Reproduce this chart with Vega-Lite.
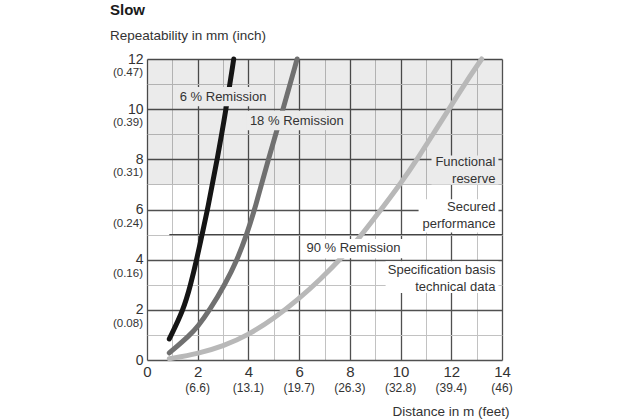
{
  "$schema": "https://vega.github.io/schema/vega-lite/v6.json",
  "width": 355,
  "height": 301,
  "autosize": {"type": "none"},
  "padding": {"left": 147, "top": 59, "right": 118, "bottom": 60},
  "config": {"view": {"stroke": null}, "font": "Liberation Sans"},
  "title": {
    "text": "Slow",
    "subtitle": "Repeatability in mm (inch)",
    "anchor": "start",
    "frame": "group",
    "dx": -37,
    "fontSize": 15,
    "fontWeight": "bold",
    "color": "#1a1a1a",
    "subtitleFontSize": 13.5,
    "subtitleColor": "#333333",
    "subtitlePadding": 11,
    "offset": 7
  },
  "datasets": {
    "zone": [{"x": 0, "x2": 14, "y": 7, "y2": 12}],
    "threshold": [{"x": 0.88, "x2": 14, "y": 5}],
    "curves": [
      {"s": "90 %", "x": 0.88, "y": 0.05},
      {"s": "90 %", "x": 2, "y": 0.25},
      {"s": "90 %", "x": 3, "y": 0.55},
      {"s": "90 %", "x": 4, "y": 1.0},
      {"s": "90 %", "x": 5, "y": 1.65},
      {"s": "90 %", "x": 6, "y": 2.45},
      {"s": "90 %", "x": 6.81, "y": 3.19},
      {"s": "90 %", "x": 7.73, "y": 4.12},
      {"s": "90 %", "x": 8.39, "y": 4.89},
      {"s": "90 %", "x": 9.11, "y": 5.84},
      {"s": "90 %", "x": 9.96, "y": 6.97},
      {"s": "90 %", "x": 10.75, "y": 8.15},
      {"s": "90 %", "x": 11.34, "y": 9.1},
      {"s": "90 %", "x": 12.0, "y": 10.15},
      {"s": "90 %", "x": 12.59, "y": 11.1},
      {"s": "90 %", "x": 13.2, "y": 12.0},
      {"s": "18 %", "x": 0.88, "y": 0.28},
      {"s": "18 %", "x": 1.7, "y": 1.0},
      {"s": "18 %", "x": 2.0, "y": 1.33},
      {"s": "18 %", "x": 2.48, "y": 2.0},
      {"s": "18 %", "x": 3.07, "y": 3.0},
      {"s": "18 %", "x": 3.56, "y": 4.0},
      {"s": "18 %", "x": 3.93, "y": 5.0},
      {"s": "18 %", "x": 4.25, "y": 6.0},
      {"s": "18 %", "x": 4.78, "y": 8.0},
      {"s": "18 %", "x": 5.37, "y": 10.0},
      {"s": "18 %", "x": 5.92, "y": 12.0},
      {"s": "6 %", "x": 0.88, "y": 0.84},
      {"s": "6 %", "x": 1.44, "y": 2.0},
      {"s": "6 %", "x": 1.72, "y": 3.0},
      {"s": "6 %", "x": 1.96, "y": 4.0},
      {"s": "6 %", "x": 2.17, "y": 5.0},
      {"s": "6 %", "x": 2.39, "y": 6.0},
      {"s": "6 %", "x": 2.77, "y": 8.0},
      {"s": "6 %", "x": 3.12, "y": 10.0},
      {"s": "6 %", "x": 3.42, "y": 12.0}
    ],
    "boxes": [
      {"zone": "reserve", "x": 1.14, "x2": 4.84, "y": 10.12, "y2": 10.88},
      {"zone": "reserve", "x": 3.94, "x2": 7.87, "y": 9.16, "y2": 9.94},
      {"zone": "basis", "x": 6.14, "x2": 10.16, "y": 4.06, "y2": 4.82},
      {"zone": "reserve", "x": 11.22, "x2": 13.86, "y": 7.0, "y2": 8.15},
      {"zone": "secured", "x": 10.71, "x2": 13.86, "y": 5.08, "y2": 6.41},
      {"zone": "basis", "x": 9.41, "x2": 13.86, "y": 2.67, "y2": 3.94}
    ],
    "curveLabels": [
      {"label": "6 % Remission", "x": 3.0, "y": 10.49},
      {"label": "18 % Remission", "x": 5.91, "y": 9.53},
      {"label": "90 % Remission", "x": 8.14, "y": 4.45}
    ],
    "zoneLabels": [
      {"label": "Functional\nreserve", "x": 13.74, "y": 7.9},
      {"label": "Secured\nperformance", "x": 13.74, "y": 6.08},
      {"label": "Specification basis\ntechnical data", "x": 13.74, "y": 3.59}
    ],
    "feet": [
      {"x": 2, "y": 0, "label": "(6.6)"},
      {"x": 4, "y": 0, "label": "(13.1)"},
      {"x": 6, "y": 0, "label": "(19.7)"},
      {"x": 8, "y": 0, "label": "(26.3)"},
      {"x": 10, "y": 0, "label": "(32.8)"},
      {"x": 12, "y": 0, "label": "(39.4)"},
      {"x": 14, "y": 0, "label": "(46)"}
    ],
    "inch": [
      {"x": 0, "y": 2, "label": "(0.08)"},
      {"x": 0, "y": 4, "label": "(0.16)"},
      {"x": 0, "y": 6, "label": "(0.24)"},
      {"x": 0, "y": 8, "label": "(0.31)"},
      {"x": 0, "y": 10, "label": "(0.39)"},
      {"x": 0, "y": 12, "label": "(0.47)"}
    ]
  },
  "encoding": {
    "x": {
      "field": "x",
      "type": "quantitative",
      "scale": {"domain": [0, 14], "nice": false, "zero": false},
      "axis": {
        "values": [0, 1, 2, 3, 4, 5, 6, 7, 8, 9, 10, 11, 12, 13, 14],
        "labelExpr": "datum.value % 2 === 0 ? datum.label : ''",
        "labelOverlap": false,
        "labelFlush": false,
        "grid": true,
        "gridColor": {"condition": {"test": "datum.value % 2 === 0", "value": "#505050"}, "value": "#c2c2c2"},
        "gridWidth": {"condition": {"test": "datum.value % 2 === 0", "value": 1.3}, "value": 1},
        "gridOpacity": 1,
        "ticks": false,
        "domain": false,
        "labelFontSize": 15,
        "labelColor": "#333333",
        "labelPadding": 4,
        "title": "Distance in m (feet)",
        "titleFontSize": 13.5,
        "titleFontWeight": "normal",
        "titleColor": "#333333",
        "titleAnchor": "end",
        "titleAlign": "right",
        "titleBaseline": "middle",
        "titleX": 362,
        "titleY": 51
      }
    },
    "y": {
      "field": "y",
      "type": "quantitative",
      "scale": {"domain": [0, 12], "nice": false, "zero": false},
      "axis": {
        "values": [0, 1, 2, 3, 4, 5, 6, 7, 8, 9, 10, 11, 12],
        "labelExpr": "datum.value % 2 === 0 ? datum.label : ''",
        "labelOverlap": false,
        "labelFlush": false,
        "grid": true,
        "gridColor": {"condition": {"test": "datum.value % 2 === 0", "value": "#505050"}, "value": "#c2c2c2"},
        "gridWidth": {"condition": {"test": "datum.value % 2 === 0", "value": 1.3}, "value": 1},
        "gridOpacity": 1,
        "ticks": false,
        "domain": false,
        "labelFontSize": 14,
        "labelColor": "#333333",
        "labelPadding": 4,
        "labelBaseline": "middle",
        "title": null
      }
    }
  },
  "layer": [
    {
      "data": {"name": "zone"},
      "mark": {"type": "rect", "fill": "#000000", "fillOpacity": 0.08},
      "encoding": {"x2": {"field": "x2"}, "y2": {"field": "y2"}}
    },
    {
      "data": {"name": "threshold"},
      "mark": {"type": "rule", "color": "#444444", "strokeWidth": 1.4},
      "encoding": {"x2": {"field": "x2"}}
    },
    {
      "data": {"name": "curves"},
      "mark": {"type": "line", "interpolate": "basis", "strokeWidth": 5, "strokeCap": "round"},
      "encoding": {
        "color": {
          "field": "s",
          "type": "nominal",
          "scale": {"domain": ["90 %", "18 %", "6 %"], "range": ["#b8b8b8", "#707070", "#151515"]},
          "legend": null
        },
        "order": {"field": "x", "type": "quantitative"}
      }
    },
    {
      "data": {"name": "boxes"},
      "mark": {"type": "rect"},
      "encoding": {
        "x2": {"field": "x2"},
        "y2": {"field": "y2"},
        "fill": {
          "field": "zone",
          "type": "nominal",
          "scale": {"domain": ["reserve", "secured", "basis"], "range": ["#ebebeb", "#ffffff", "#ffffff"]},
          "legend": null
        }
      }
    },
    {
      "data": {"name": "curveLabels"},
      "mark": {"type": "text", "align": "center", "baseline": "middle", "fontSize": 13, "color": "#333333"},
      "encoding": {"text": {"field": "label"}}
    },
    {
      "data": {"name": "zoneLabels"},
      "mark": {"type": "text", "align": "right", "baseline": "middle", "fontSize": 13, "color": "#333333", "lineBreak": "\n", "lineHeight": 17},
      "encoding": {"text": {"field": "label"}}
    },
    {
      "data": {"name": "feet"},
      "mark": {"type": "text", "align": "center", "baseline": "middle", "fontSize": 12, "color": "#333333", "dy": 28},
      "encoding": {"text": {"field": "label"}}
    },
    {
      "data": {"name": "inch"},
      "mark": {"type": "text", "align": "right", "baseline": "middle", "fontSize": 11.5, "color": "#333333", "dx": -4, "dy": 14},
      "encoding": {"text": {"field": "label"}}
    }
  ]
}
